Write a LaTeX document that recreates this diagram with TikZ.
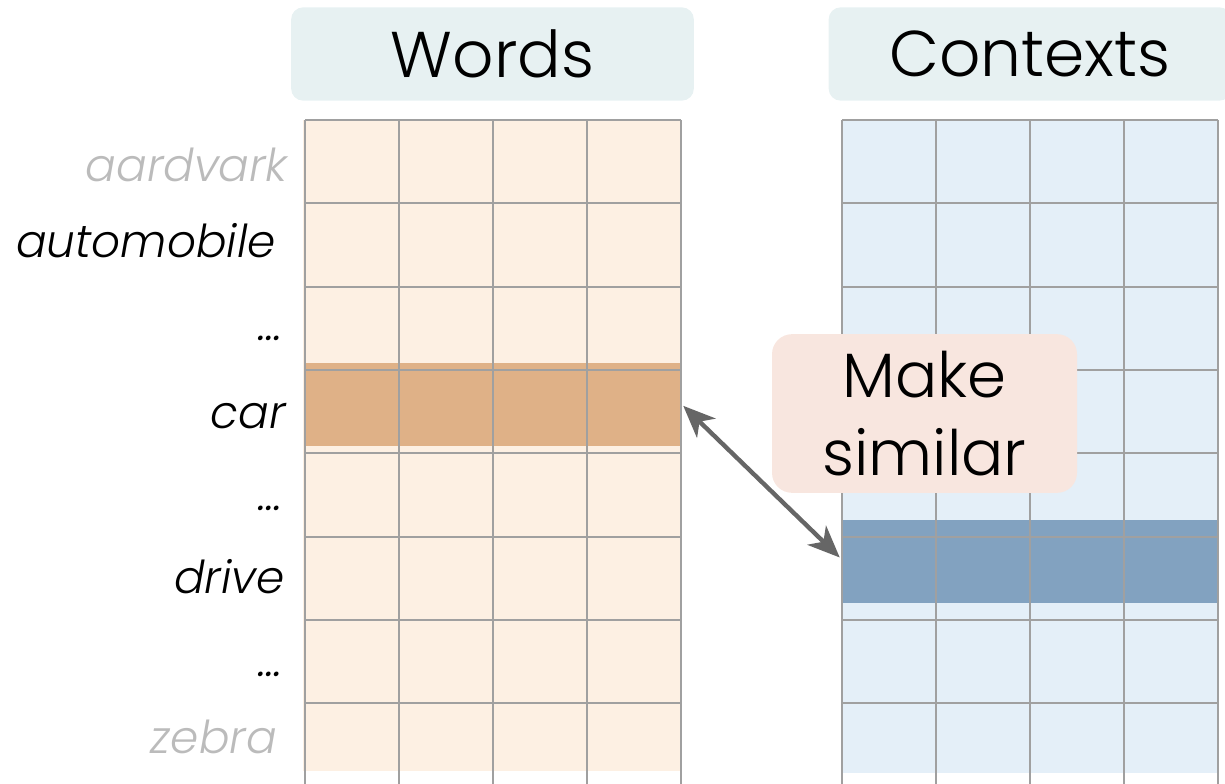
\documentclass[tikz,border=0pt]{standalone}
\usepackage{fontspec}
\setmainfont{Poppins}[UprightFont={* Light}, ItalicFont={* Light Italic}]
\usetikzlibrary{positioning, arrows.meta}

\definecolor{headfill}{HTML}{E7F1F2}
\definecolor{wordfill}{HTML}{FDF0E3}
\definecolor{wordhi}{HTML}{DFB187}
\definecolor{ctxfill}{HTML}{E4EFF8}
\definecolor{ctxhi}{HTML}{82A2C0}
\definecolor{simfill}{HTML}{F8E6DF}
\definecolor{gridline}{HTML}{A0A0A0}
\definecolor{faded}{HTML}{BBBBBB}
\definecolor{arrowgray}{HTML}{666666}

\begin{document}
\begin{tikzpicture}[
  x=0.75pt, y=-0.75pt,
  header/.style={fill=headfill, rounded corners=9pt, minimum width=302pt, minimum height=70pt, inner sep=0pt, font=\fontsize{48.5}{58}\selectfont},
  band/.style={inner sep=0pt, minimum width=282pt, minimum height=62.25pt},
  wordlabel/.style={anchor=base east, inner sep=0pt, font=\fontsize{34}{40}\selectfont\itshape},
  gridrule/.style={draw=gridline, line width=1.5pt}
]
  \useasboundingbox (0,0) rectangle (1225,784);

  % column headers
  \node[header] (words) at (492.5,54) {Words};
  \node[header] (contexts) at (1030,54) {Contexts};

  % matrix backgrounds
  \fill[wordfill] (303,120) rectangle (681,771);
  \fill[ctxfill] (842,120) rectangle (1218,773);

  % highlighted rows
  \node[band, fill=wordhi] (car) at (493,404.5) {};
  \node[band, fill=ctxhi] (drive) at (1030,561.5) {};

  % grid lines of both matrices
  \foreach \left in {305,842} {
    \foreach \c in {0,...,4}
      \draw[gridrule] ({\left+94*\c},120) -- ({\left+94*\c},784);
    \foreach \r in {0,...,7}
      \draw[gridrule] (\left,{120+83.3*\r}) -- ({\left+376},{120+83.3*\r});
  }

  % row labels
  \foreach \i/\txt/\x/\y/\col in {1/aardvark/288/182/faded, 2/automobile/276/258/black,
      3/{\ldots}/283/341/black, 4/car/286/428/black, 5/{\ldots}/283/510/black,
      6/drive/285/593/black, 7/{\ldots}/283/676/black, 8/zebra/277/753/faded}
    \node[wordlabel, text=\col] (lbl\i) at (\x,\y) {\txt};

  % similarity callout
  \node[fill=simfill, rounded corners=15pt, minimum width=228.75pt, minimum height=119pt,
        align=center, inner sep=0pt, font=\fontsize{47}{58.5}\selectfont] (similar) at (924.5,413.5) {Make\\similar};

  \draw[{Stealth[length=24pt, width=20pt, inset=7pt]}-{Stealth[length=24pt, width=20pt, inset=7pt]},
        line width=3.3pt, draw=arrowgray, fill=arrowgray]
    ([xshift=1.5pt, yshift=-1pt]car.east) -- ([xshift=-1.5pt, yshift=3pt]drive.west);
\end{tikzpicture}
\end{document}
